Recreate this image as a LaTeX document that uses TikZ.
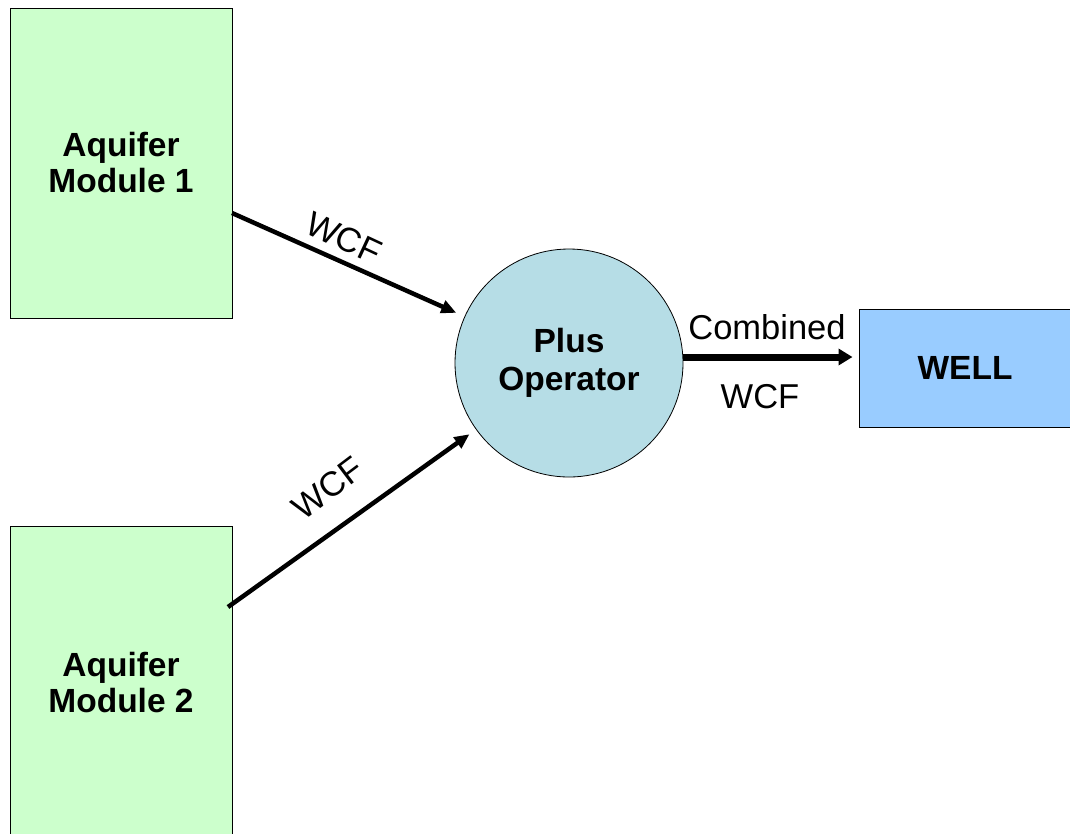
\documentclass[tikz,border=0pt]{standalone}
\usepackage{fontspec}
\setmainfont{Liberation Sans}
\usetikzlibrary{arrows.meta,calc}
\definecolor{aqgreen}{HTML}{CCFFCC}
\definecolor{opblue}{HTML}{B6DDE6}
\definecolor{wellblue}{HTML}{99CCFF}
\tikzset{
  module/.style={draw=black, line width=1pt, fill=aqgreen, align=center,
    font=\fontsize{33.5}{36}\selectfont\bfseries, inner sep=0pt},
  opnode/.style={circle, draw=black, line width=0.8pt, fill=opblue, align=center,
    font=\fontsize{33.5}{38}\selectfont\bfseries, minimum size=228pt, inner sep=0pt},
  wellbox/.style={draw=black, line width=1pt, fill=wellblue, align=center,
    font=\fontsize{33.5}{36}\selectfont\bfseries, inner sep=0pt},
  flow/.style={line width=4.5pt, -{Triangle[length=15pt,width=13pt]}},
  bigflow/.style={line width=7pt, -{Triangle[length=14pt,width=16pt]}},
  lbl/.style={font=\fontsize{34.5}{38}\selectfont, inner sep=0pt}
}
\begin{document}
\begin{tikzpicture}[x=1pt,y=-1pt]
\useasboundingbox (0,0) rectangle (1070,833);
\clip (0,0) rectangle (1070,833);
\node[module, minimum width=222pt, minimum height=310pt] (m1) at (121,163) {Aquifer\\Module 1};
\node[module, minimum width=222pt, minimum height=314pt] (m2) at (121,683) {Aquifer\\Module 2};
\node[opnode] (op) at (569,363) {Plus\\Operator};
\node[wellbox, minimum width=212pt, minimum height=118pt] (well) at (965,368) {WELL};
\coordinate (s1) at (232,213);
\coordinate (s2) at (228,607);
\draw[flow, shorten >=9pt] (s1) -- (op);
\draw[flow, shorten >=8pt] (s2) -- (op);
\coordinate (s3) at ([yshift=6pt]op.east);
\draw[bigflow, shorten >=6pt] (s3) -- (well.west |- s3);
\node[lbl, rotate=-25] (l1) at (344,238) {WCF};
\node[lbl, rotate=37] (l2) at (328,488) {WCF};
\node[lbl] (l3) at (767,327) {Combined};
\node[lbl] (l4) at (760,397) {WCF};
\end{tikzpicture}
\end{document}
